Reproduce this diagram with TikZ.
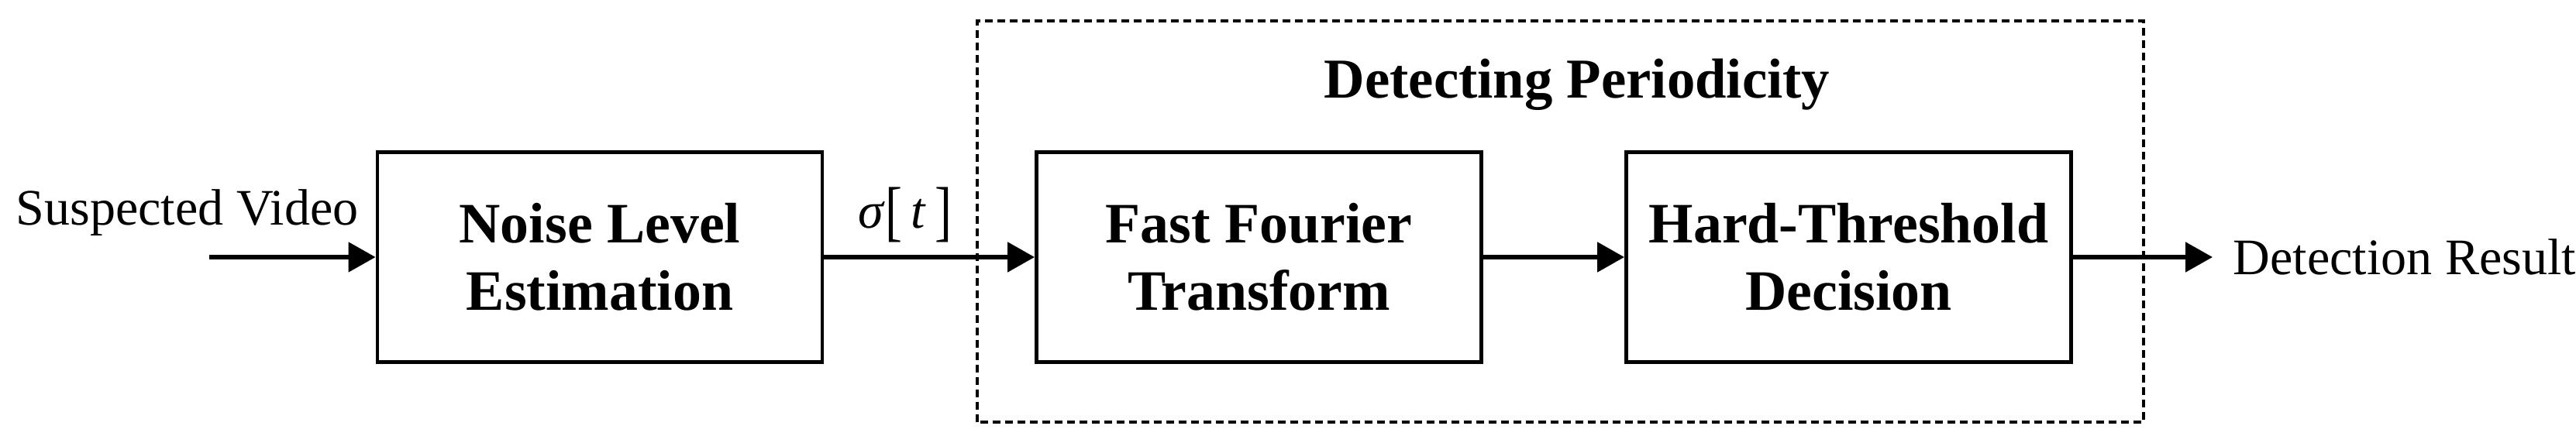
\documentclass[tikz,border=0pt]{standalone}
\usepackage{fontspec}
\setmainfont{Liberation Serif}
\usetikzlibrary{arrows.meta}

\newcommand{\bigbrk}[1]{\raisebox{-0.1em}{\scalebox{1}[1.3]{#1}}}

\begin{document}
\begin{tikzpicture}[
  blk/.style={draw, line width=1.4pt, minimum width=5.74cm, minimum height=2.71cm,
    align=center, font=\fontsize{21}{24.8}\selectfont\bfseries},
  lbl/.style={font=\fontsize{18.8}{22}\selectfont, inner sep=0pt},
  arr/.style={-{Triangle[length=0.35cm,width=0.38cm]}, line width=1.5pt},
  frame/.style={dash pattern=on 0.1cm off 0.06cm, line width=1pt}
]
\useasboundingbox (0,0) rectangle (33.24,5.71);
\draw[frame] (12.61,0.26) rectangle (27.66,5.44);
\node[blk] (nle) at (7.74,2.39) {Noise Level\\Estimation};
\node[blk] (fft) at (16.245,2.39) {Fast Fourier\\Transform};
\node[blk] (htd) at (23.855,2.39) {Hard-Threshold\\Decision};
\node[font=\fontsize{20.7}{24}\selectfont\bfseries, anchor=base, inner sep=0pt] (title) at (20.35,4.44) {Detecting Periodicity};
\coordinate (in) at (2.70,2.39);
\coordinate (out) at (28.55,2.39);
\node[lbl, anchor=base west] (vid) at (0.20,2.81) {Suspected Video};
\node[lbl] (sig) at (11.68,2.94) {\textit{σ}\bigbrk{[}\,\textit{t}\,\bigbrk{]}};
\node[lbl, anchor=west] (res) at (28.81,2.39) {Detection Result};
%\draw[arr] (vid.south west) -- (nle);
\draw[arr] (in) -- (nle);
\draw[arr] (nle) -- (fft);
\draw[arr] (fft) -- (htd);
\draw[arr] (htd) -- (out);
\end{tikzpicture}
\end{document}
